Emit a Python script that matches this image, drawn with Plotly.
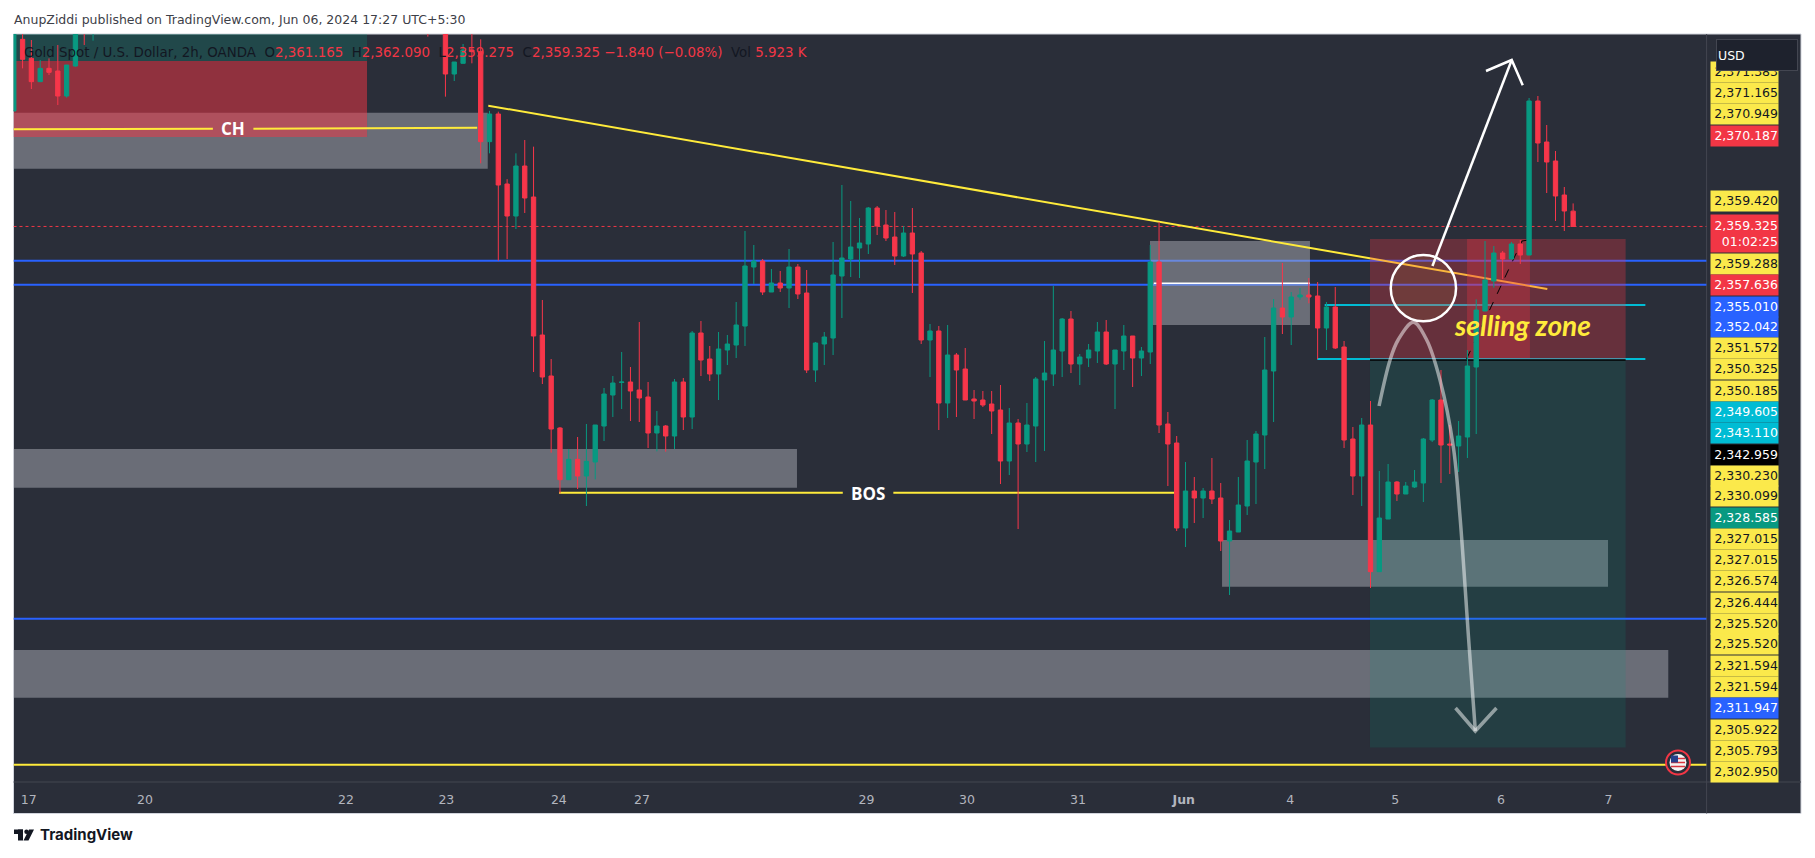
import plotly.graph_objects as go

W = 1815
H = 858

# figure pixels of the chart pane
pane_left, pane_right, pane_top, pane_bottom = 13.5, 1706.6, 34, 782
panel_right, panel_bottom = 1801, 813.5

bar_index = list(range(-55, -45)) + [-8, -6, -5, -4, -3, -2, -1] + list(range(123))

opens = [
    2373.18, 2381.78, 2379.5, 2376.7, 2378.3, 2377.98, 2374.98, 2378.58, 2386, 2384,
    2386, 2386, 2377.62, 2378.9, 2380.5, 2380.3, 2369.5,
    2372.82, 2364.42, 2360.58, 2366.58, 2362.86, 2346.3, 2341.38, 2335.14, 2328.94, 2331.38,
    2329.38, 2331.06, 2335.38, 2339.1, 2340.6, 2340.66, 2339.7, 2338.86, 2334.54, 2335.38,
    2334.18, 2340.66, 2336.46, 2346.54, 2343.42, 2341.62, 2344.5, 2345.1, 2347.38, 2354.46,
    2355.18, 2351.46, 2352.54, 2351.94, 2354.46, 2351.34, 2342.1, 2345.22, 2345.94, 2353.38,
    2355.42, 2356.74, 2357.22, 2361.54, 2359.5, 2358.06, 2355.78, 2358.54, 2356.14, 2345.7,
    2346.78, 2338.14, 2343.9, 2342.22, 2338.62, 2338.5, 2338.02, 2337.3, 2331.18, 2335.74,
    2333.22, 2335.38, 2340.9, 2341.62, 2344.38, 2348.22, 2342.82, 2343.54, 2344.38, 2346.66,
    2342.82, 2344.38, 2346.18, 2343.54, 2344.26, 2355.06, 2335.62, 2333.34, 2323.14, 2327.58,
    2326.74, 2327.58, 2326.74, 2321.58, 2322.66, 2325.78, 2331.06, 2334.3, 2341.98, 2349.54,
    2348.46, 2350.86, 2351.1, 2350.98, 2347.14, 2349.66, 2344.86, 2333.82, 2329.38, 2335.5,
    2317.9, 2324.22, 2328.66, 2327.22, 2328.06, 2328.54, 2333.7, 2338.5, 2333.22, 2332.98,
    2334.06, 2342.46, 2349.18, 2352.78, 2356.14, 2355.42, 2357.22, 2355.9, 2374.38, 2369.46,
    2367.18, 2363.1, 2361.165,
]
highs = [
    2387, 2383, 2381.7, 2379.3, 2379.5, 2381.1, 2378.7, 2385, 2387, 2387,
    2387, 2387, 2379.06, 2381.22, 2383, 2381.78, 2373.2,
    2373.1, 2365, 2368.1, 2369.7, 2368.9, 2350.5, 2343.42, 2335.26, 2332.62, 2334.06,
    2335.62, 2335.5, 2339.94, 2341.38, 2344.26, 2342.46, 2347.86, 2340.66, 2337.18, 2335.5,
    2341.02, 2341.14, 2346.78, 2347.98, 2344.98, 2346.66, 2346.3, 2350.26, 2358.78, 2357.1,
    2355.42, 2354.22, 2353.98, 2356.62, 2354.82, 2354.1, 2345.46, 2346.66, 2357.46, 2364.3,
    2362.38, 2360.34, 2361.66, 2361.78, 2361.3, 2361.06, 2359.38, 2361.54, 2356.38, 2347.62,
    2347.38, 2347.5, 2344.14, 2344.74, 2339.7, 2339.58, 2339.58, 2340.3, 2337.54, 2336.22,
    2338.14, 2341.26, 2345.58, 2352.18, 2348.34, 2349.18, 2344.02, 2345.22, 2347.86, 2348.1,
    2344.5, 2347.5, 2346.18, 2344.86, 2357.1, 2359.86, 2337.06, 2334.18, 2331.06, 2329.26,
    2327.94, 2331.54, 2328.54, 2324.1, 2329.26, 2333.7, 2334.78, 2346.06, 2350.62, 2354.94,
    2351.46, 2351.94, 2353.14, 2352.66, 2350.26, 2352.06, 2345.58, 2335.26, 2336.34, 2338.38,
    2329.98, 2330.82, 2328.78, 2328.66, 2330.1, 2333.94, 2338.62, 2342.1, 2335.5, 2335.98,
    2344.5, 2350.58, 2357.58, 2356.98, 2356.38, 2357.46, 2357.7, 2374.74, 2374.98, 2371.5,
    2368.38, 2364.06, 2362.09,
]
lows = [
    2373.18, 2378.3, 2375.82, 2376.7, 2377.5, 2373.9, 2374.78, 2378.5, 2381.1, 2381.62,
    2382.1, 2374.9, 2376.78, 2378.9, 2378.9, 2366.9, 2368.1,
    2355.22, 2355.42, 2359.02, 2360.94, 2341.86, 2340.42, 2332.18, 2327.3, 2328.94, 2327.82,
    2325.78, 2328.98, 2333.58, 2336.46, 2337.42, 2335.98, 2335.86, 2332.74, 2332.34, 2332.3,
    2332.62, 2334.9, 2335.02, 2341.38, 2340.78, 2338.5, 2342.7, 2343.54, 2344.98, 2352.42,
    2351.1, 2351.46, 2351.46, 2349.54, 2350.62, 2341.74, 2340.66, 2342.7, 2343.9, 2348.34,
    2353.26, 2353.14, 2356.02, 2358.3, 2357.58, 2354.7, 2355.66, 2351.34, 2345.22, 2341.26,
    2334.9, 2336.34, 2336.46, 2338.5, 2336.22, 2337.66, 2334.42, 2328.42, 2329.5, 2323.02,
    2332.26, 2331.06, 2332.38, 2340.18, 2341.26, 2341.74, 2340.3, 2342.46, 2342.94, 2342.7,
    2337.42, 2342.1, 2340.06, 2341.38, 2342.82, 2334.54, 2328.18, 2322.78, 2320.86, 2323.74,
    2324.34, 2326.02, 2320.38, 2315.1, 2322.66, 2324.7, 2326.02, 2330.22, 2335.86, 2346.42,
    2345.1, 2350.54, 2350.1, 2343.42, 2344.5, 2344.62, 2332.74, 2327.1, 2325.78, 2315.94,
    2317.9, 2324.22, 2326.38, 2327.22, 2327.94, 2326.26, 2333.46, 2328.54, 2329.62, 2329.86,
    2331.54, 2334.42, 2349.18, 2351.98, 2353.02, 2355.42, 2354.82, 2355.9, 2367.06, 2363.34,
    2359.98, 2358.78, 2359.275,
]
closes = [
    2386, 2379.38, 2376.7, 2378.3, 2377.82, 2374.98, 2378.7, 2384, 2384, 2386,
    2384, 2377.62, 2379.06, 2380.5, 2380.3, 2369.5, 2372.82,
    2364.3, 2360.58, 2366.58, 2362.74, 2346.18, 2341.26, 2335.02, 2328.94, 2331.38, 2329.38,
    2331.14, 2335.5, 2339.22, 2340.54, 2340.66, 2339.58, 2338.74, 2334.54, 2335.38, 2334.18,
    2340.66, 2336.46, 2346.54, 2343.3, 2341.62, 2344.62, 2345.22, 2347.5, 2354.58, 2355.18,
    2351.46, 2352.54, 2351.94, 2354.46, 2351.22, 2342.1, 2345.34, 2346.06, 2353.5, 2355.54,
    2356.86, 2357.34, 2361.54, 2359.38, 2357.94, 2355.78, 2358.54, 2356.02, 2345.7, 2346.78,
    2338.14, 2343.9, 2342.1, 2338.5, 2338.38, 2337.9, 2337.18, 2331.18, 2335.74, 2333.22,
    2335.5, 2341.02, 2341.74, 2344.5, 2348.22, 2342.82, 2343.66, 2344.5, 2346.66, 2342.82,
    2344.5, 2346.18, 2343.54, 2344.38, 2355.06, 2335.5, 2333.22, 2323.14, 2327.58, 2326.74,
    2327.58, 2326.62, 2321.58, 2322.78, 2325.9, 2331.18, 2334.42, 2342.1, 2349.54, 2348.46,
    2350.86, 2351.1, 2350.86, 2347.14, 2349.66, 2344.74, 2333.7, 2329.38, 2335.5, 2317.9,
    2324.34, 2328.66, 2327.22, 2328.18, 2328.66, 2333.82, 2338.5, 2333.1, 2333.1, 2334.18,
    2342.58, 2349.3, 2352.9, 2356.14, 2355.42, 2357.22, 2355.9, 2374.38, 2369.34, 2367.06,
    2362.98, 2361.18, 2359.325,
]

# axis windows
x_range = [-55.03, 137.15]
y_range = [2292.66, 2382.42]

time_ticks = [-53.3, -40.1, -17.3, -5.9, 6.87, 16.3, 41.8, 53.2, 65.8, 77.8, 89.9, 101.8, 113.8, 126]
time_labels = ["17", "20", "22", "23", "24", "27", "29", "30", "31", "<b>Jun</b>", "4", "5", "6", "7"]

# drawing tools, in bars and prices
gray_zones = [
    (-55.03, -1.2, 2372.98, 2366.26),
    (-55.03, 33.9, 2332.62, 2327.98),
    (73.97, 92.13, 2357.58, 2347.5),
    (82.15, 125.96, 2321.7, 2316.1),
    (-55.03, 132.8, 2308.5, 2302.78),
]
position_red_zones = [
    (98.94, 127.96, 2357.82, 2343.3),
    (109.96, 117.1, 2357.82, 2343.54),
]
position_teal_zone = (98.94, 127.96, 2343.3, 2296.81)
old_red_zone = (-55.03, -14.9, 2379.18, 2370.06)
old_teal_zone = (-55.03, -14.9, 2383, 2379.18)

blue_levels = [2355.22, 2352.34, 2312.26]
bottom_level = 2294.72
last_price = 2359.325

trend_segment = (-1.14, 119.07, 2373.82, 2351.82)
break_segments = [
    (-55.03, -32.4, 2370.98, 2371.05),
    (-27.8, -2.4, 2371.06, 2371.18),
    (6.89, 39.1, 2327.38, 2327.38),
    (44.84, 76.7, 2327.38, 2327.38),
]
cyan_segments = [
    (93.8, 130.2, 2349.9, 2349.9),
    (92.96, 130.2, 2343.42, 2343.42),
]
white_segment = (74.4, 92.13, 2352.5, 2352.5)
black_segment = (98.94, 127.96, 2343.3, 2343.3)
dashed_path_x = [109.9, 116.2, 116.8]
dashed_path_y = [2343.42, 2357.58, 2357.68]

up_arrow_x = [106.03, 115.03]
up_arrow_y = [2354.58, 2379.3]
up_head_x = [112.11, 115.03, 116.28]
up_head_y = [2377.98, 2379.3, 2376.26]

curve_x = [99.97, 101.22, 102.13, 103.87, 105.38, 106.89, 108.4, 109.16, 110.2, 110.9]
curve_y = [2337.78, 2343.3, 2345.7, 2347.82, 2345.7, 2340.9, 2332.9, 2324.5, 2308.9, 2298.78]
curve_head_x = [108.65, 110.9, 113.3]
curve_head_y = [2301.54, 2298.78, 2301.54]

circle_box = (101.3, 108.71, 2355.9, 2347.94)

# price scale tags, stacked by the platform so not at their true heights
tag_text = [
    "2,371.383", "2,371.165", "2,370.949", "2,370.187", "2,359.420", "2,359.325<br>01:02:25", "2,359.288",
    "2,357.636", "2,355.010", "2,352.042", "2,351.572", "2,350.325", "2,350.185", "2,349.605", "2,343.110",
    "2,342.959", "2,330.230", "2,330.099", "2,328.585", "2,327.015", "2,327.015", "2,326.574", "2,326.444",
    "2,325.520", "2,325.520", "2,321.594", "2,321.594", "2,311.947", "2,305.922", "2,305.793", "2,302.950",
]
tag_kind = [
    "y", "y", "y", "r", "y", "r", "y", "r", "b", "b", "y", "y", "y", "c", "c",
    "k", "y", "y", "g", "y", "y", "y", "y", "y", "y", "y", "y", "b", "y", "y", "y",
]
tag_center = [
    71.7, 92.6, 114.5, 136.5, 201.3, 233.7, 263.8, 284.6, 306.6, 327.4, 348.3, 369.1, 391.1, 411.9, 432.7,
    454.7, 475.5, 496.4, 518.3, 539.2, 560, 580.8, 602.8, 623.6, 644.4, 666.4, 687.3, 708.1, 730.1, 750.9, 771.7,
]

BG = "#2A2E39"
GREEN = "#089981"
RED = "#F7364A"
YELLOW = "#FFEB3B"
BLUE = "#2962FF"
CYAN = "#00BCD4"
FONT = "DejaVu Sans"
tag_fill = {"y": "#FBE94B", "r": "#F23645", "b": "#2962FF", "c": "#00BCD4", "k": "#000000", "g": "#089981"}


def px(x):
    return x / W


def py(y):
    return 1 - y / H


fig = go.Figure()

fig.add_trace(
    go.Candlestick(
        x=bar_index,
        open=opens,
        high=highs,
        low=lows,
        close=closes,
        whiskerwidth=0,
        increasing=dict(line=dict(color=GREEN, width=1), fillcolor=GREEN),
        decreasing=dict(line=dict(color=RED, width=1), fillcolor=RED),
        hoverinfo="skip",
        showlegend=False,
    )
)

# trend tools that sit over the candles
above_line = dict(color="rgba(255,255,255,0.5)", width=3.5)
fig.add_trace(go.Scatter(x=curve_x, y=curve_y, mode="lines", line=dict(shape="spline", **above_line), hoverinfo="skip", showlegend=False))
fig.add_trace(go.Scatter(x=curve_head_x, y=curve_head_y, mode="lines", line=above_line, hoverinfo="skip", showlegend=False))
white_line = dict(color="#FFFFFF", width=2.5)
fig.add_trace(go.Scatter(x=up_arrow_x, y=up_arrow_y, mode="lines", line=white_line, hoverinfo="skip", showlegend=False))
fig.add_trace(go.Scatter(x=up_head_x, y=up_head_y, mode="lines", line=white_line, hoverinfo="skip", showlegend=False))

shapes = []


def paper_rect(x0, x1, y0, y1, fill, line=None, layer="below"):
    shapes.append(
        dict(type="rect", xref="paper", yref="paper", x0=px(x0), x1=px(x1), y0=py(y1), y1=py(y0),
             fillcolor=fill, line=dict(width=1 if line else 0, color=line or fill), layer=layer)
    )


def zone(box, fill):
    shapes.append(dict(type="rect", x0=box[0], x1=box[1], y0=box[3], y1=box[2], fillcolor=fill, line=dict(width=0), layer="below"))


def segment(seg, color, width, dash="solid"):
    shapes.append(dict(type="line", x0=seg[0], x1=seg[1], y0=seg[2], y1=seg[3], line=dict(color=color, width=width, dash=dash), layer="below"))


# dark panel behind pane, time axis and price scale
paper_rect(pane_left, panel_right, pane_top, panel_bottom, BG, line="#D1D4DC")

# stacking matters: zones tint the lines drawn before them
for level in blue_levels:
    segment((x_range[0], x_range[1], level, level), BLUE, 2)
segment((x_range[0], x_range[1], bottom_level, bottom_level), YELLOW, 2)
segment((x_range[0], x_range[1], last_price, last_price), "#F23645", 1, "dot")
for box in gray_zones:
    zone(box, "rgba(174,176,183,0.49)")
segment(white_segment, "#FFFFFF", 1.5)
segment(trend_segment, YELLOW, 2)
for seg in cyan_segments:
    segment(seg, CYAN, 2)
zone(old_teal_zone, "rgba(8,153,129,0.25)")
zone(old_red_zone, "rgba(242,54,69,0.3)")
zone(old_red_zone, "rgba(242,54,69,0.3)")
zone(position_teal_zone, "rgba(8,153,129,0.15)")
for box in position_red_zones:
    zone(box, "rgba(242,54,69,0.3)")
segment(black_segment, "#000000", 1.5)
for seg in break_segments:
    segment(seg, YELLOW, 2)
for i in range(len(dashed_path_x) - 1):
    segment((dashed_path_x[i], dashed_path_x[i + 1], dashed_path_y[i], dashed_path_y[i + 1]), "#000000", 1, "dash")

shapes.append(
    dict(type="circle", x0=circle_box[0], x1=circle_box[1], y0=circle_box[3], y1=circle_box[2],
         line=dict(color="#FFFFFF", width=2.5), fillcolor="rgba(255,235,59,0.06)", layer="above")
)

# pane separators
shapes.append(dict(type="line", xref="paper", yref="paper", x0=px(pane_right), x1=px(pane_right), y0=py(panel_bottom), y1=py(pane_top), line=dict(color="#434651", width=1), layer="below"))
shapes.append(dict(type="line", xref="paper", yref="paper", x0=px(pane_left), x1=px(panel_right), y0=py(pane_bottom), y1=py(pane_bottom), line=dict(color="#434651", width=1), layer="below"))


def paper_circle(cx, cy, r, fill, line=None, width=0):
    shapes.append(
        dict(type="circle", xref="paper", yref="paper", x0=px(cx - r), x1=px(cx + r), y0=py(cy + r), y1=py(cy - r),
             fillcolor=fill, line=dict(color=line or fill, width=width), layer="above")
    )


# little country flag for the event marker
flag_x, flag_y = 1678, 762.5
paper_circle(flag_x, flag_y, 12, BG, "#F23645", 2)
paper_circle(flag_x, flag_y, 8.5, "#F4F4F4")
for dy in (-4, 0, 4):
    shapes.append(dict(type="line", xref="paper", yref="paper", x0=px(flag_x - 7), x1=px(flag_x + 7), y0=py(flag_y + dy), y1=py(flag_y + dy), line=dict(color="#D8343F", width=1.5), layer="above"))
shapes.append(dict(type="rect", xref="paper", yref="paper", x0=px(flag_x - 7), x1=px(flag_x), y0=py(flag_y), y1=py(flag_y - 7), fillcolor="#27408B", line=dict(width=0), layer="above"))

# footer logo
logo = "#131722"
paper_rect(14, 23, 829.5, 834, logo, layer="above")
paper_rect(18, 23, 829.5, 840.5, logo, layer="above")
paper_circle(26.5, 831.7, 2.2, logo)
shapes.append(
    dict(type="path", xref="paper", yref="paper",
         path=f"M {px(23.5)} {py(840.5)} L {px(29)} {py(829.5)} L {px(34)} {py(829.5)} L {px(28.5)} {py(840.5)} Z",
         fillcolor=logo, line=dict(width=0), layer="above")
)

annotations = []


def label(x, y, text, size, color, xanchor="left", **kw):
    annotations.append(
        dict(xref="paper", yref="paper", x=px(x), y=py(y), text=text, showarrow=False, xanchor=xanchor, yanchor="middle",
             font=dict(family=kw.pop("family", FONT), size=size, color=color), **kw)
    )


label(12, 20, "AnupZiddi published on TradingView.com, Jun 06, 2024 17:27 UTC+5:30", 12.5, "#3D4048")

dark = "#131722"
val = "#F23645"
legend_html = (
    f'<span style="color:{dark}">Gold Spot / U.S. Dollar, 2h, OANDA  O</span><span style="color:{val}">2,361.165</span>'
    f'<span style="color:{dark}">  H</span><span style="color:{val}">2,362.090</span>'
    f'<span style="color:{dark}">  L</span><span style="color:{val}">2,359.275</span>'
    f'<span style="color:{dark}">  C</span><span style="color:{val}">2,359.325 −1.840 (−0.08%)</span>'
    f'<span style="color:{dark}">  Vol</span><span style="color:{val}"> 5.923 K</span>'
)
label(22, 53, legend_html, 13.4, dark)

label(232.7, 128, "<b>CH</b>", 17, "#FFFFFF", xanchor="center", family="Open Sans")
label(868.3, 493, "<b>BOS</b>", 17, "#FFFFFF", xanchor="center", family="Open Sans")
label(1522.6, 325, "<b><i>selling zone</i></b>", 28, YELLOW, xanchor="center", family="Lato")

for text, kind, yc in zip(tag_text, tag_kind, tag_center):
    two_rows = "<br>" in text
    label(
        1710, yc, text, 12.5, "#131722" if kind == "y" else "#FFFFFF",
        align="right", bgcolor=tag_fill[kind], width=67, height=37 if two_rows else 19.5, borderpad=0, valign="middle",
    )

label(1716, 55, "USD", 12.5, "#FFFFFF", align="left", bgcolor="#1E222D", bordercolor="#434651", borderwidth=1, width=78, height=28)
label(38, 834.5, "<b>TradingView</b>", 15, "#131722", family="Inter")

fig.update_layout(
    width=W,
    height=H,
    margin=dict(l=0, r=0, t=0, b=0),
    paper_bgcolor="#FFFFFF",
    plot_bgcolor="rgba(0,0,0,0)",
    boxgap=0.3,
    showlegend=False,
    shapes=shapes,
    annotations=annotations,
    xaxis=dict(
        domain=[px(pane_left), px(pane_right)],
        range=x_range,
        rangeslider=dict(visible=False),
        tickmode="array",
        tickvals=time_ticks,
        ticktext=time_labels,
        tickfont=dict(family=FONT, size=12.5, color="#B2B5BE"),
        ticks="outside",
        ticklen=6,
        tickcolor="rgba(0,0,0,0)",
        tickangle=0,
        showgrid=False,
        zeroline=False,
        showline=False,
        automargin=False,
    ),
    yaxis=dict(
        domain=[py(pane_bottom), py(pane_top)],
        range=y_range,
        showgrid=False,
        zeroline=False,
        showticklabels=False,
        ticks="",
        showline=False,
        automargin=False,
    ),
)

fig.write_html("out.html", config={"displayModeBar": False}, post_script="document.body.style.margin='0';")
